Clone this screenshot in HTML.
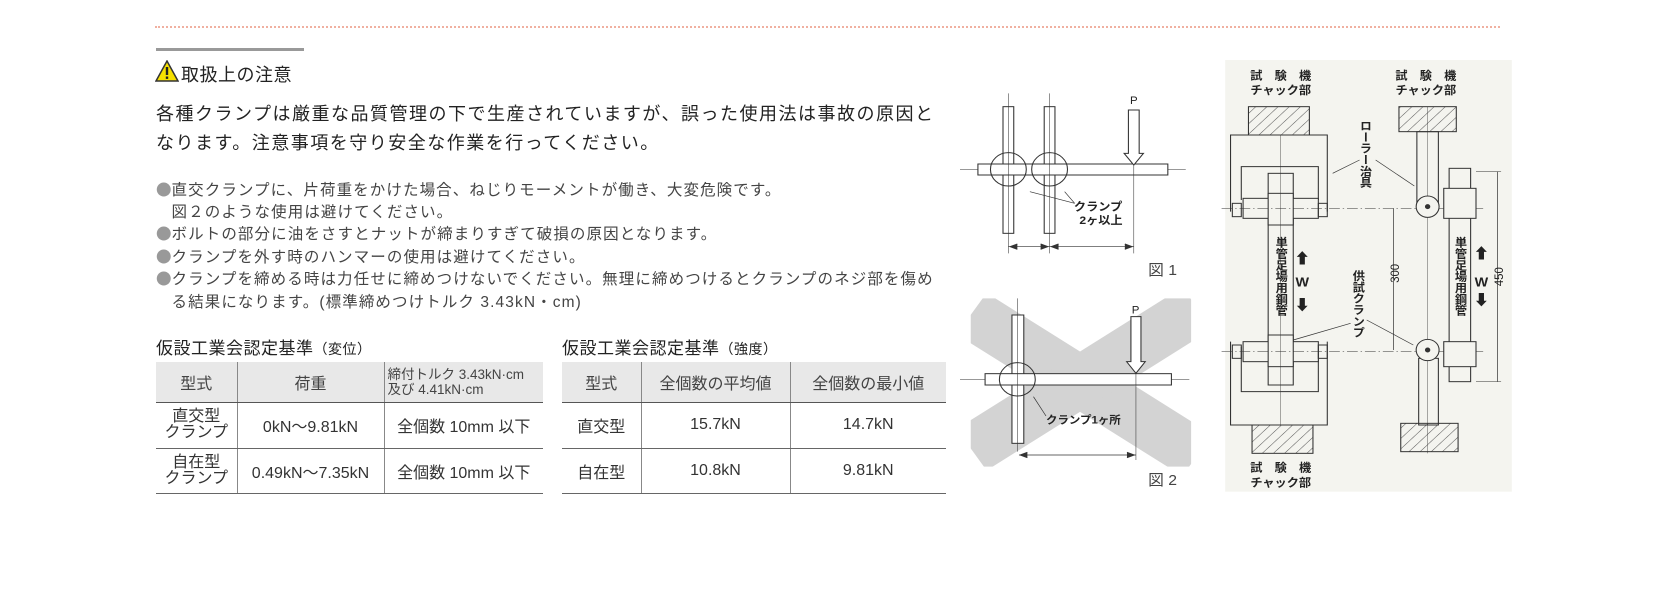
<!DOCTYPE html>
<html><head><meta charset="utf-8"><style>
*{margin:0;padding:0;box-sizing:border-box}
body{width:1654px;height:606px;background:#fff;position:relative;overflow:hidden;font-family:"Liberation Sans","Noto Sans CJK JP",sans-serif;color:#333}
.a{position:absolute;white-space:nowrap}
.dots{left:155px;top:26px;width:1345px;border-top:2px dotted #f0b0a0}
.bar{left:156px;top:48px;width:148px;height:3px;background:#999}
.title{left:181px;top:61px;font-size:18px;letter-spacing:0.5px;color:#222}
.p{left:156px;font-size:18px;letter-spacing:1.5px;color:#222}
.b{left:156px;font-size:15.5px;letter-spacing:1.1px;color:#444}
.b i{font-style:normal;font-family:"Noto Sans CJK JP",sans-serif;color:#999;letter-spacing:0}
.tt{font-size:17px;letter-spacing:0.5px;color:#222}
.tt small{font-size:14px}
.t{position:absolute;border-collapse:collapse;font-size:16px;color:#333}
.t td{border-left:1px solid #888;text-align:center;padding:0;border-bottom:1px solid #666}
.t td:first-child{border-left:none}
.t tr.h td{background:#e8e8e8;border-bottom:1px solid #555;color:#444}
</style></head><body>
<div class="a dots"></div>
<div class="a bar"></div>
<svg class="a" style="left:155px;top:60px" width="24" height="22" viewBox="0 0 24 22"><polygon points="12,1 23,21 1,21" fill="#f6e000" stroke="#333" stroke-width="1.5"/><rect x="10.8" y="7" width="2.4" height="8" fill="#222"/><rect x="10.8" y="16.5" width="2.4" height="2.4" fill="#222"/></svg>
<div class="a title">取扱上の注意</div>
<div class="a p" style="top:100px">各種クランプは厳重な品質管理の下で生産されていますが、誤った使用法は事故の原因と</div>
<div class="a p" style="top:129px">なります。注意事項を守り安全な作業を行ってください。</div>
<div class="a b" style="top:178px"><i>●</i>直交クランプに、片荷重をかけた場合、ねじりモーメントが働き、大変危険です。</div>
<div class="a b" style="top:200px"><i>&#12288;</i>図２のような使用は避けてください。</div>
<div class="a b" style="top:222px"><i>●</i>ボルトの部分に油をさすとナットが締まりすぎて破損の原因となります。</div>
<div class="a b" style="top:245px"><i>●</i>クランプを外す時のハンマーの使用は避けてください。</div>
<div class="a b" style="top:267px"><i>●</i>クランプを締める時は力任せに締めつけないでください。無理に締めつけるとクランプのネジ部を傷め</div>
<div class="a b" style="top:290px"><i>&#12288;</i>る結果になります。(標準締めつけトルク 3.43kN・cm)</div>
<div class="a tt" style="left:156px;top:334px">仮設工業会認定基準<small>（変位）</small></div>
<div class="a tt" style="left:562px;top:334px">仮設工業会認定基準<small>（強度）</small></div>
<table class="t" style="left:156px;top:362px;width:387px">
<tr class="h" style="height:40px"><td style="width:81px">型式</td><td style="width:147px">荷重</td><td style="text-align:left;font-size:13.5px;line-height:15px;padding-left:3px">締付トルク 3.43kN·cm<br>及び 4.41kN·cm</td></tr>
<tr style="height:46px"><td style="line-height:16px">直交型<br>クランプ</td><td>0kN〜9.81kN</td><td>全個数 10mm 以下</td></tr>
<tr style="height:45px"><td style="line-height:16px">自在型<br>クランプ</td><td>0.49kN〜7.35kN</td><td>全個数 10mm 以下</td></tr>
</table>
<table class="t" style="left:562px;top:362px;width:384px">
<tr class="h" style="height:40px"><td style="width:79px">型式</td><td style="width:149px">全個数の平均値</td><td>全個数の最小値</td></tr>
<tr style="height:46px"><td>直交型</td><td>15.7kN</td><td>14.7kN</td></tr>
<tr style="height:45px"><td>自在型</td><td>10.8kN</td><td>9.81kN</td></tr>
</table>
<svg class="a" style="left:960px;top:60px" width="602" height="440" viewBox="0 0 1680 1320" preserveAspectRatio="none" font-family="Liberation Sans,Noto Sans CJK JP,sans-serif">
<defs>
<pattern id="h" width="22" height="22" patternUnits="userSpaceOnUse" patternTransform="rotate(45)"><line x1="0" y1="0" x2="0" y2="22" stroke="#555" stroke-width="3"/></pattern>
<clipPath id="c2"><rect x="30" y="715" width="615" height="505"/></clipPath>
</defs>
<g stroke="#333" fill="none" stroke-width="3">
<line x1="135" y1="100" x2="135" y2="580" stroke-width="1.5"/><line x1="250" y1="100" x2="250" y2="580" stroke-width="1.5"/>
<rect x="120" y="140" width="30" height="380" fill="#fff"/><rect x="235" y="140" width="30" height="380" fill="#fff"/>
<line x1="0" y1="328" x2="630" y2="328" stroke-width="1.5"/>
<rect x="50" y="312" width="530" height="33" fill="#fff"/>
<line x1="135" y1="140" x2="135" y2="520" stroke-width="1.5"/><line x1="250" y1="140" x2="250" y2="520" stroke-width="1.5"/>
<circle cx="135" cy="328" r="50"/><circle cx="250" cy="328" r="50"/>
<polygon points="470,150 500,150 500,280 512,280 485,315 458,280 470,280" fill="#fff"/>
<line x1="485" y1="315" x2="485" y2="580" stroke-width="1.5"/>
<line x1="135" y1="560" x2="485" y2="560" stroke-width="2"/>
<polyline points="160,552 140,560 160,568" fill="#333"/><polyline points="225,552 245,560 225,568" fill="#333"/><polyline points="275,552 255,560 275,568" fill="#333"/><polyline points="460,552 480,560 460,568" fill="#333"/>
<line x1="320" y1="430" x2="195" y2="395" stroke-width="2"/><line x1="320" y1="430" x2="292" y2="395" stroke-width="2"/>
<g clip-path="url(#c2)" stroke="none" fill="#d3d3d3">
<rect x="-30" y="890" width="760" height="150" transform="rotate(34 335 965)"/>
<rect x="-30" y="890" width="760" height="150" transform="rotate(-34 335 965)"/>
</g>
<line x1="160" y1="715" x2="160" y2="1175" stroke-width="1.5"/>
<rect x="145" y="765" width="33" height="385" fill="#fff"/>
<line x1="0" y1="958" x2="640" y2="958" stroke-width="1.5"/>
<rect x="70" y="941" width="520" height="34" fill="#fff"/>
<line x1="160" y1="765" x2="160" y2="1150" stroke-width="1.5"/>
<circle cx="160" cy="958" r="50"/>
<polygon points="477,770 505,770 505,905 517,905 491,940 465,905 477,905" fill="#fff"/>
<line x1="491" y1="940" x2="491" y2="1200" stroke-width="1.5"/>
<line x1="165" y1="1185" x2="491" y2="1185" stroke-width="2"/>
<polyline points="188,1177 168,1185 188,1193" fill="#333"/><polyline points="466,1177 486,1185 466,1193" fill="#333"/>
<line x1="240" y1="1068" x2="205" y2="1010" stroke-width="2"/>
</g>
<g font-size="40" fill="#222" font-weight="bold">
<text x="485" y="132" text-anchor="middle" font-size="32" font-weight="normal">P</text>
<text x="490" y="760" text-anchor="middle" font-size="32" font-weight="normal">P</text>
<text x="318" y="452" font-size="34">クランプ</text><text x="333" y="492" font-size="34">2ヶ以上</text>
<text x="240" y="1090" font-size="32">クランプ1ヶ所</text>
</g>
<text x="525" y="645" font-size="44" fill="#444">図 1</text>
<text x="525" y="1275" font-size="44" fill="#444">図 2</text>
<rect x="740" y="0" width="800" height="1295" fill="#f4f4ef"/>
<g stroke="#333" fill="none" stroke-width="3">
<rect x="805" y="140" width="170" height="85" fill="url(#h)"/>
<rect x="815" y="1095" width="170" height="85" fill="url(#h)"/>
<rect x="1225" y="140" width="160" height="75" fill="url(#h)"/>
<rect x="1230" y="1090" width="160" height="85" fill="url(#h)"/>
<polyline points="755,455 755,225 1025,225 1025,455"/>
<polyline points="785,420 785,320 1000,320 1000,420"/>
<polyline points="755,845 755,1095 1025,1095 1025,845"/>
<polyline points="785,860 785,995 1000,995 1000,860"/>
<rect x="860" y="340" width="70" height="635" fill="#f4f4ef"/>
<rect x="790" y="415" width="210" height="60" fill="#f4f4ef"/>
<rect x="790" y="845" width="210" height="60" fill="#f4f4ef"/>
<rect x="860" y="400" width="70" height="95" fill="#f4f4ef"/>
<rect x="860" y="825" width="70" height="95" fill="#f4f4ef"/>
<rect x="760" y="430" width="25" height="40"/><rect x="1000" y="430" width="25" height="40"/>
<rect x="760" y="855" width="25" height="40"/><rect x="1000" y="855" width="25" height="40"/>
<line x1="895" y1="225" x2="895" y2="1095" stroke-width="1.2"/>
<line x1="730" y1="445" x2="1460" y2="445" stroke-width="1.5" stroke-dasharray="30,8,4,8"/>
<line x1="730" y1="875" x2="1460" y2="875" stroke-width="1.5" stroke-dasharray="30,8,4,8"/>
<rect x="1275" y="215" width="60" height="220"/>
<rect x="1280" y="895" width="55" height="200"/>
<line x1="1305" y1="140" x2="1305" y2="1180" stroke-width="1.2"/>
<rect x="1365" y="325" width="60" height="640" fill="#f4f4ef"/>
<rect x="1350" y="385" width="90" height="90" fill="#f4f4ef"/>
<rect x="1350" y="845" width="90" height="75" fill="#f4f4ef"/>
<circle cx="1305" cy="440" r="32" fill="#f4f4ef"/><circle cx="1305" cy="870" r="32" fill="#f4f4ef"/>
<circle cx="1305" cy="440" r="6" fill="#333"/><circle cx="1305" cy="870" r="6" fill="#333"/>
<line x1="1210" y1="445" x2="1210" y2="870" stroke-width="2"/>
<line x1="1440" y1="335" x2="1510" y2="335" stroke-width="1.5"/><line x1="1440" y1="965" x2="1510" y2="965" stroke-width="1.5"/>
<line x1="1500" y1="335" x2="1500" y2="965" stroke-width="2"/>
<line x1="1115" y1="300" x2="1040" y2="340" stroke-width="2"/><line x1="1160" y1="300" x2="1268" y2="378" stroke-width="2"/>
<line x1="1090" y1="790" x2="930" y2="840" stroke-width="2"/><line x1="1135" y1="780" x2="1265" y2="855" stroke-width="2"/>
</g>
<g fill="#222" font-weight="bold" font-size="34" text-anchor="middle">
<text x="895" y="58">試　験　機</text><text x="895" y="102">チャック部</text>
<text x="1300" y="58">試　験　機</text><text x="1300" y="102">チャック部</text>
<text x="895" y="1235">試　験　機</text><text x="895" y="1280">チャック部</text>
<text x="955" y="680" font-size="40">W</text><text x="1455" y="680" font-size="40">W</text>
<text x="955" y="610" font-size="44">⬆</text><text x="955" y="750" font-size="44">⬇</text>
<text x="1455" y="595" font-size="44">⬆</text><text x="1455" y="735" font-size="44">⬇</text>
</g>
<g fill="#222" font-weight="bold" font-size="34" style="writing-mode:vertical-rl">
<text x="895" y="530">単管足場用鋼管</text>
<text x="1395" y="530">単管足場用鋼管</text>
<text x="1130" y="180">ローラー治具</text>
<text x="1110" y="630">供試クランプ</text>
</g>
<text x="1225" y="640" font-size="34" fill="#222" transform="rotate(-90 1225 640)" text-anchor="middle">300</text>
<text x="1515" y="650" font-size="34" fill="#222" transform="rotate(-90 1515 650)" text-anchor="middle">450</text>
</svg>
</body></html>
